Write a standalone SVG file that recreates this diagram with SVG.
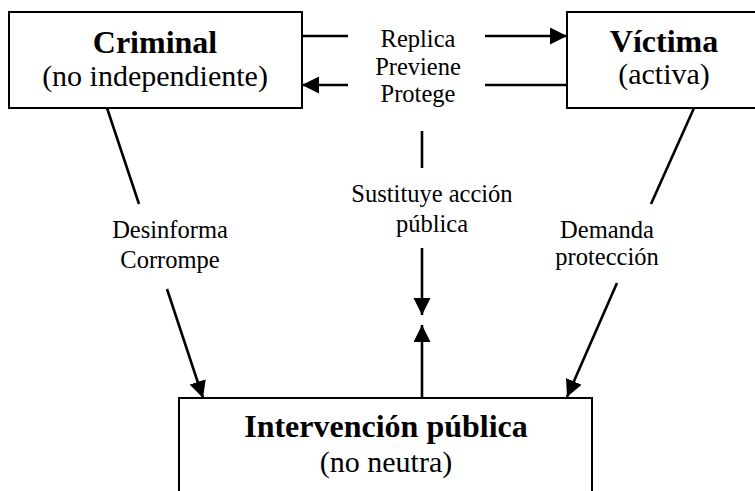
<svg xmlns="http://www.w3.org/2000/svg" width="755" height="491" viewBox="0 0 755 491">
<style>
.box{fill:#fff;stroke:#000;stroke-width:2}
.t{font-family:"Liberation Serif",serif;fill:#000;text-anchor:middle}
.b{font-size:32px;font-weight:bold}
.r{font-size:30px}
.l{font-size:24.5px}
.c{stroke:#000;stroke-width:2.6;fill:none}
.a{marker-end:url(#ah)}
</style>
<defs>
<marker id="ah" markerUnits="userSpaceOnUse" markerWidth="18" markerHeight="18" refX="17" refY="8.5" orient="auto">
<path d="M0,0 L17,8.5 L0,17 z" fill="#000"/>
</marker>
</defs>
<rect width="755" height="491" fill="#fff"/>
<g id="criminal">
<rect class="box" x="9" y="12" width="293" height="96"/>
<text class="t b" x="155" y="53">Criminal</text>
<text class="t r" x="155" y="86">(no independiente)</text>
</g>
<g id="victima">
<rect class="box" x="567" y="12" width="200" height="96"/>
<text class="t b" x="664" y="52">Víctima</text>
<text class="t r" x="664" y="84">(activa)</text>
</g>
<g id="intervencion">
<rect class="box" x="179" y="398" width="413" height="120"/>
<text class="t b" x="386" y="437">Intervención pública</text>
<text class="t r" x="386" y="472">(no neutra)</text>
</g>
<g id="connectors">
<line class="c" x1="302" y1="36" x2="348" y2="36"/>
<line class="c a" x1="485" y1="36" x2="567" y2="36"/>
<line class="c a" x1="348" y1="85" x2="302" y2="85"/>
<line class="c" x1="485" y1="85" x2="567" y2="85"/>
<line class="c" x1="422" y1="131" x2="422" y2="168"/>
<line class="c a" x1="422" y1="248" x2="422" y2="315"/>
<line class="c a" x1="422" y1="398" x2="422" y2="325"/>
<line class="c" x1="107" y1="108" x2="139" y2="204"/>
<line class="c a" x1="167" y1="289" x2="203" y2="398"/>
<line class="c" x1="694" y1="108" x2="651" y2="204"/>
<line class="c a" x1="617" y1="283" x2="567" y2="397"/>
</g>
<g id="labels">
<text class="t l" x="418" y="47">Replica</text>
<text class="t l" x="418" y="75">Previene</text>
<text class="t l" x="418" y="102">Protege</text>
<text class="t l" x="432" y="202">Sustituye acción</text>
<text class="t l" x="432" y="232">pública</text>
<text class="t l" x="170" y="238">Desinforma</text>
<text class="t l" x="170" y="268">Corrompe</text>
<text class="t l" x="607" y="238">Demanda</text>
<text class="t l" x="607" y="265">protección</text>
</g>
</svg>
